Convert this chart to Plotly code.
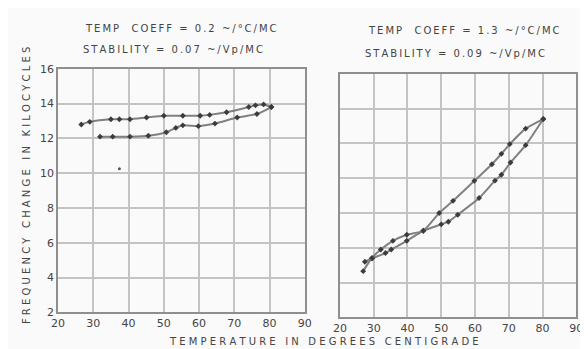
import plotly.graph_objects as go

# left panel: temp coeff 0.2, two branches of the loop
left_up_t = [26.6, 29.0, 35.0, 37.4, 40.4, 45.1, 50.0, 55.4, 60.3, 63.0, 67.8, 74.1, 76.0, 78.3, 80.5]
left_up_f = [12.8, 12.95, 13.1, 13.1, 13.1, 13.2, 13.3, 13.3, 13.3, 13.35, 13.5, 13.8, 13.9, 13.95, 13.8]
left_dn_t = [80.5, 76.4, 70.8, 64.5, 59.8, 55.4, 53.4, 50.7, 45.6, 40.4, 35.5, 31.9]
left_dn_f = [13.8, 13.4, 13.2, 12.85, 12.7, 12.75, 12.6, 12.35, 12.15, 12.1, 12.1, 12.1]
stray_t = [37.4]
stray_f = [10.25]

# right panel: temp coeff 1.3
right_up_t = [26.9, 29.4, 32.1, 35.7, 39.8, 44.7, 49.4, 53.5, 59.8, 65.0, 67.8, 70.3, 75.0, 80.2]
right_up_f = [4.66, 5.4, 5.9, 6.4, 6.75, 6.98, 8.0, 8.7, 9.85, 10.8, 11.4, 11.96, 12.85, 13.4]
right_dn_t = [80.2, 75.0, 70.5, 67.8, 65.9, 61.2, 54.9, 52.1, 50.0, 44.7, 39.8, 35.2, 33.5, 29.6, 27.4]
right_dn_f = [13.4, 11.9, 10.9, 10.2, 9.86, 8.86, 7.9, 7.5, 7.35, 6.98, 6.4, 5.9, 5.7, 5.4, 5.2]

x_ticks = [20, 30, 40, 50, 60, 70, 80, 90]
y_ticks = [2, 4, 6, 8, 10, 12, 14, 16]

INK = "#444444"
FONT = "DejaVu Sans"


def spaced(s, gap=" "):
    return gap.join(s)


fig = go.Figure()

line = dict(color="#808080", width=2, shape="spline", smoothing=0.6)
mark = dict(color="#3c3c3c", size=4.5, symbol="diamond")

for t, f in [(left_up_t, left_up_f), (left_dn_t, left_dn_f)]:
    fig.add_trace(go.Scatter(x=t, y=f, mode="lines+markers", line=line, marker=mark,
                             xaxis="x", yaxis="y", showlegend=False))
fig.add_trace(go.Scatter(x=stray_t, y=stray_f, mode="markers",
                         marker=dict(color="#555", size=3), xaxis="x", yaxis="y", showlegend=False))

for t, f in [(right_up_t, right_up_f), (right_dn_t, right_dn_f)]:
    fig.add_trace(go.Scatter(x=t, y=f, mode="lines+markers", line=line, marker=mark,
                             xaxis="x2", yaxis="y2", showlegend=False))

axis_common = dict(
    showgrid=True, gridcolor="#c4c4c4", gridwidth=1.5,
    showline=True, linecolor="#8f8f8f", linewidth=1.5, mirror=True,
    zeroline=False, ticks="",
    tickfont=dict(family=FONT, size=11, color=INK),
)

fig.update_layout(
    width=588, height=349,
    margin=dict(l=0, r=0, t=0, b=0),
    paper_bgcolor="#fafafa",
    plot_bgcolor="#fafafa",
    font=dict(family=FONT, color=INK),
    xaxis=dict(domain=[0.075, 0.505], range=[20, 90], tickvals=x_ticks, anchor="y", **axis_common),
    yaxis=dict(domain=[0.112, 0.837], range=[2, 16], tickvals=y_ticks, anchor="x", **axis_common),
    xaxis2=dict(domain=[0.566, 0.978], range=[20, 90], tickvals=x_ticks, anchor="y2", **axis_common),
    yaxis2=dict(domain=[0.097, 0.822], range=[2, 16], tickvals=y_ticks, anchor="x2",
                showticklabels=False, **axis_common),
)

thin = "\u2009"
notes = [
    (170, 15, "TEMP  COEFF = 0.2 ~/°C/MC"),
    (162, 37, "STABILITY = 0.07 ~/Vp/MC"),
    (460, 17, "TEMP  COEFF = 1.3 ~/°C/MC"),
    (451, 41, "STABILITY = 0.09 ~/Vp/MC"),
]
for x, y, txt in notes:
    fig.add_annotation(x=x / 588, y=1 - y / 349, xref="paper", yref="paper",
                       text=spaced(txt, thin), showarrow=False, xanchor="center", yanchor="middle",
                       font=dict(family=FONT, size=10, color=INK))

fig.add_annotation(x=317 / 588, y=1 - 340 / 349, xref="paper", yref="paper",
                   text=spaced("TEMPERATURE IN DEGREES CENTIGRADE"),
                   showarrow=False, xanchor="center", yanchor="middle",
                   font=dict(family=FONT, size=10, color=INK))
fig.add_annotation(x=12 / 588, y=1 - 178 / 349, xref="paper", yref="paper",
                   text=spaced("FREQUENCY CHANGE IN KILOCYCLES"),
                   textangle=-90, showarrow=False, xanchor="center", yanchor="middle",
                   font=dict(family=FONT, size=10, color=INK))

fig.write_html("out.html")
